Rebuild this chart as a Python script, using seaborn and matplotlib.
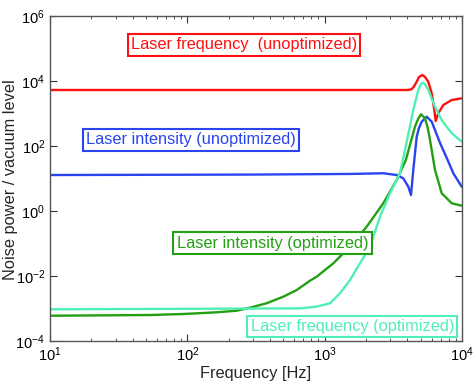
import matplotlib
matplotlib.use("Agg")
import matplotlib.pyplot as plt
import matplotlib.ticker as mticker
import seaborn as sns

# values (frequency in Hz, noise power / vacuum level)
freq_unopt_freq = [10, 3845, 4040, 4302, 4490, 4679, 4860, 5139, 5377, 5684, 6017,
                   6130, 6285, 6434, 6723, 7309, 8414, 9950, 10000]
freq_unopt_val = [5286, 5286, 5300, 5554, 7010, 9517, 13270, 15300, 13270, 9517, 4183,
                  2600, 1281, 588, 1014, 1826, 2603, 2936, 2950]

freq_opt_freq = [10, 661, 875, 1094, 1293, 1529, 1808, 2138, 2529, 2991, 3536, 3845,
                 4419, 4806, 5029, 5226, 5420, 5684, 6359, 7116, 8414, 9950, 10000]
freq_opt_val = [9.45e-4, 1.01e-3, 1.14e-3, 1.45e-3, 2.94e-3, 7.5e-3, 0.0246, 0.0797,
                0.668, 3.5, 14.5, 75, 1280, 5290, 8090, 8870, 7530, 5290, 1620, 630,
                246, 136, 135]

int_opt_freq = [10, 53.5, 93.5, 163.6, 228.8, 286, 378, 500, 626, 782, 875, 1156,
                1529, 2023, 2673, 3346, 3900, 4547, 4806, 5029, 5377, 5610, 5848,
                6359, 7116, 8414, 9950, 10000]
int_opt_val = [6.0e-4, 6.3e-4, 6.77e-4, 7.64e-4, 8.56e-4, 1.06e-3, 1.45e-3, 2.31e-3,
               3.71e-3, 7.17e-3, 9.52e-3, 0.0246, 0.0797, 0.329, 1.73, 8.99, 37.1,
               393, 700, 945, 712, 385, 153, 18.3, 3.5, 1.73, 1.46, 1.45]

int_unopt_freq = [10, 286, 1529, 2673, 3346, 3737, 4064, 4252, 4419, 4679, 4860,
                  5088, 5534, 6017, 6359, 6918, 7745, 8643, 9950, 10000]
int_unopt_val = [12.8, 13.2, 13.8, 14.5, 12.8, 10.1, 5.6, 3.1, 18.3, 193, 357,
                 559, 797, 559, 310, 124, 42.8, 14.5, 5.6, 5.5]

labels = ["Laser frequency  (unoptimized)", "Laser intensity (unoptimized)",
          "Laser intensity (optimized)", "Laser frequency (optimized)"]

red = "#ff1010"
blue = "#2a45f0"
green = "#22a012"
cyan = "#4ff0b4"

sns.set_style("ticks")
plt.rcParams['font.family'] = ['Liberation Sans', 'DejaVu Sans']
plt.rcParams['mathtext.fontset'] = 'custom'
plt.rcParams['mathtext.rm'] = 'Liberation Sans'

fig = plt.figure(figsize=(4.77, 3.82), dpi=100)
ax = fig.add_axes([50 / 477, 1 - 341 / 382, 412 / 477, 325 / 382])

series = [
    (freq_unopt_freq, freq_unopt_val, red),
    (int_unopt_freq, int_unopt_val, blue),
    (int_opt_freq, int_opt_val, green),
    (freq_opt_freq, freq_opt_val, cyan),
]
for x, y, c in series:
    sns.lineplot(x=x, y=y, color=c, linewidth=1.7, estimator=None, sort=False, ax=ax)

ax.set_xscale("log")
ax.set_yscale("log")
ax.set_xlim(10, 1e4)
ax.set_ylim(1e-4, 1e6)
ax.yaxis.set_major_locator(mticker.FixedLocator([1e-4, 1e-2, 1, 1e2, 1e4, 1e6]))
ax.yaxis.set_minor_locator(mticker.NullLocator())
ax.xaxis.set_minor_locator(mticker.LogLocator(base=10, subs=range(2, 10)))

for s in ax.spines.values():
    s.set_visible(True)
    s.set_color("#555555")
    s.set_linewidth(1.0)
ax.tick_params(which="both", direction="in", top=True, right=True, colors="#333333",
               labelcolor="black", labelsize=10.5)
ax.tick_params(which="major", length=5, width=0.8)
ax.tick_params(which="minor", length=2.5, width=0.6)

ax.set_xlabel("Frequency [Hz]", fontsize=11.8, labelpad=1)
ax.set_ylabel("Noise power / vacuum level", fontsize=11.8)
ax.yaxis.set_label_coords(-0.077, 0.497)

# label boxes (axes fractions)
box_pos = [(0.471, 0.911), (0.342, 0.619), (0.540, 0.3015), (0.734, 0.045)]
for (bx, by), txt, (_, _, c) in zip(box_pos, labels, series):
    ax.text(bx, by, txt, transform=ax.transAxes, ha="center", va="center",
            fontsize=11.8, color=c,
            bbox=dict(boxstyle="square,pad=0.2", fc="white", ec=c, lw=1.5))

fig.savefig("out.png", dpi=100)
